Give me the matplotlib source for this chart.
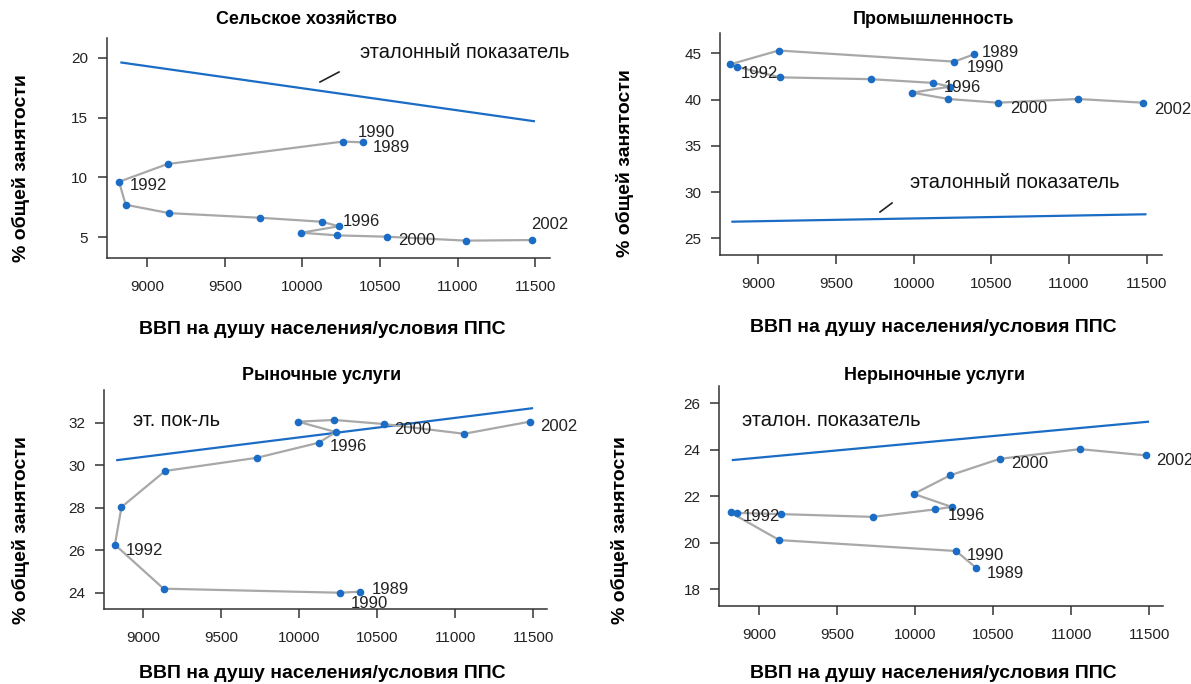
from matplotlib import pyplot as plt
from matplotlib import font_manager

W, H = 1191, 684

# GDP per capita (PPP), 1989..2002
gdp = [10390, 10262, 9130, 8818, 8860, 9140, 9728, 10125, 10234, 9992, 10224, 10542, 11056, 11478]

agri = [12.93, 13.0, 11.12, 9.64, 7.72, 7.02, 6.63, 6.30, 5.92, 5.38, 5.16, 5.05, 4.72, 4.77]
industry = [44.9, 44.1, 45.3, 43.8, 43.55, 42.4, 42.2, 41.8, 41.4, 40.74, 40.06, 39.66, 40.06, 39.66]
market = [24.05, 24.0, 24.19, 26.26, 28.03, 29.73, 30.35, 31.06, 31.56, 32.05, 32.13, 31.94, 31.48, 32.05]
nonmarket = [18.92, 19.64, 20.11, 21.30, 21.28, 21.23, 21.11, 21.43, 21.54, 22.10, 22.90, 23.61, 24.03, 23.76]

# benchmark ("эталонный показатель") lines
bench_x = [8833, 11492]
agri_bench = [19.6, 14.7]
industry_bench = [26.8, 27.6]
market_bench = [30.24, 32.68]
nonmarket_bench = [23.56, 25.21]

years = [1989, 1990, 1992, 1996, 2000, 2002]
year_idx = [0, 1, 3, 7, 11, 13]

xticks = [9000, 9500, 10000, 10500, 11000, 11500]

names = {f.name for f in font_manager.fontManager.ttflist}
NARROW = "Liberation Sans Narrow" if "Liberation Sans Narrow" in names else "Liberation Sans"
plt.rcParams["font.family"] = ["Liberation Sans", "DejaVu Sans"]

BLUE = "#1a6cc4"
GRAY = "#a8a8a8"
DARK = "#333333"
XLABEL = "ВВП на душу населения/условия ППС"
YLABEL = "% общей занятости"

panels = [
    dict(title="Сельское хозяйство", y=agri, bench=agri_bench,
         rect=(106.7, 38, 550, 258), xlim=(8738, 11596), ylim=(3.27, 21.65),
         yticks=[5, 10, 15, 20],
         offs=[(10, -5), (15, 9), (11, -4), (21, 0), (12, -4), (-1, 16)],
         ref="эталонный показатель", ref_pos=(360, 52), leader=[(320, 82), (339, 72)],
         title_pos=(307, 19), xl_pos=(322, 330), yl_pos=(21, 168)),
    dict(title="Промышленность", y=industry, bench=industry_bench,
         rect=(720, 33.3, 1161.7, 255), xlim=(8753, 11597), ylim=(23.2, 47.16),
         yticks=[25, 30, 35, 40, 45],
         offs=[(8, 2), (12, -6), (11, -9), (11, -5), (12, -6), (11, -7)],
         ref="эталонный показатель", ref_pos=(910, 182), leader=[(880, 212), (892, 203)],
         title_pos=(933, 20), xl_pos=(933, 328), yl_pos=(625, 163)),
    dict(title="Рыночные услуги", y=market, bench=market_bench,
         rect=(104, 390, 546.7, 609.3), xlim=(8748, 11586), ylim=(23.22, 33.54),
         yticks=[24, 26, 28, 30, 32],
         offs=[(12, 2), (11, -11), (11, -6), (11, -4), (10, -6), (10, -5)],
         ref="эт. пок-ль", ref_pos=(133, 420), leader=None,
         title_pos=(322, 375), xl_pos=(322, 674), yl_pos=(21, 530)),
    dict(title="Нерыночные услуги", y=nonmarket, bench=nonmarket_bench,
         rect=(719.3, 386, 1163.3, 606), xlim=(8746, 11590), ylim=(17.27, 26.75),
         yticks=[18, 20, 22, 24, 26],
         offs=[(11, -6), (11, -5), (12, -4), (13, -6), (11, -5), (10, -5)],
         ref="эталон. показатель", ref_pos=(742, 420), leader=None,
         title_pos=(934, 376), xl_pos=(933, 673), yl_pos=(620, 530)),
]


def fx(px):
    return px / W


def fy(py):
    return 1 - py / H


fig = plt.figure(figsize=(W / 100, H / 100), dpi=100)

for p in panels:
    l, t, r, b = p["rect"]
    ax = fig.add_axes([fx(l), fy(b), (r - l) / W, (b - t) / H])
    ax.plot(bench_x, p["bench"], color=BLUE, lw=1.6, zorder=2)
    ax.plot(gdp, p["y"], color=GRAY, lw=1.6, zorder=3)
    ax.plot(gdp, p["y"], "o", color=BLUE, ms=5.5, mec="none", zorder=4)
    for yr, i, (dx, dy) in zip(years, year_idx, p["offs"]):
        ax.annotate(str(yr), xy=(gdp[i], p["y"][i]), xytext=(dx, dy),
                    textcoords="offset pixels", ha="left", va="center",
                    fontsize=12, family=NARROW, color="#222222", zorder=5)
    ax.set_xlim(*p["xlim"])
    ax.set_ylim(*p["ylim"])
    ax.set_xticks(xticks)
    ax.set_yticks(p["yticks"])
    for s in ["top", "right"]:
        ax.spines[s].set_visible(False)
    for s in ["left", "bottom"]:
        ax.spines[s].set_color(DARK)
        ax.spines[s].set_linewidth(1.1)
    ax.tick_params(direction="out", length=6.5, width=1.1, color=DARK,
                   labelcolor="#222222", labelsize=11)
    ax.tick_params(axis="x", pad=9)
    ax.tick_params(axis="y", pad=7)
    for lab in ax.get_xticklabels() + ax.get_yticklabels():
        lab.set_family(NARROW)

    fig.text(fx(p["ref_pos"][0]), fy(p["ref_pos"][1]), p["ref"], ha="left",
             va="center", fontsize=14.4, color="#111111")
    if p["leader"]:
        (x0, y0), (x1, y1) = p["leader"]
        fig.add_artist(plt.Line2D([fx(x0), fx(x1)], [fy(y0), fy(y1)],
                                  color="#222222", lw=1.2))
    fig.text(fx(p["title_pos"][0]), fy(p["title_pos"][1]), p["title"],
             ha="center", va="center", fontsize=12.9, fontweight="bold")
    fig.text(fx(p["xl_pos"][0]), fy(p["xl_pos"][1]), XLABEL,
             ha="center", va="center", fontsize=14, fontweight="bold")
    fig.text(fx(p["yl_pos"][0]), fy(p["yl_pos"][1]), YLABEL, rotation=90,
             ha="center", va="center", fontsize=14, fontweight="bold")

fig.savefig("out.png", dpi=100)
